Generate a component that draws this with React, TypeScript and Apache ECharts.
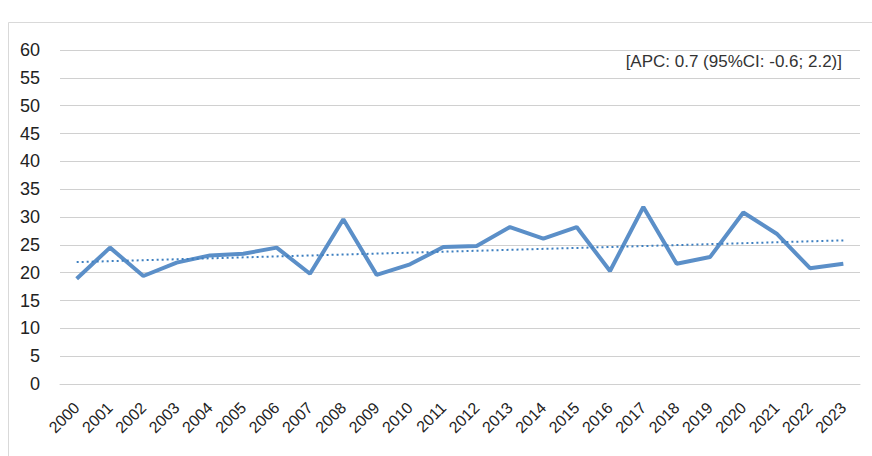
import React, { useEffect, useRef } from "react";
import * as echarts from "echarts";

const years = [
  "2000", "2001", "2002", "2003", "2004", "2005", "2006", "2007", "2008", "2009", "2010", "2011",
  "2012", "2013", "2014", "2015", "2016", "2017", "2018", "2019", "2020", "2021", "2022", "2023",
];
const rates = [
  18.9, 24.5, 19.4, 21.8, 23.1, 23.4, 24.5, 19.8, 29.6, 19.6, 21.5, 24.6,
  24.8, 28.2, 26.1, 28.2, 20.3, 31.8, 21.6, 22.8, 30.8, 27.0, 20.8, 21.6,
];
// linear trend endpoints (2000 and 2023)
const trendStart = 21.9;
const trendEnd = 25.8;
const annotation = "[APC: 0.7 (95%CI: -0.6; 2.2)]";

export default function App() {
  const ref = useRef<HTMLDivElement>(null);
  useEffect(() => {
    if (!ref.current) return;
    const chart = echarts.init(ref.current, null, { renderer: "svg" });
    const trend = years.map((_, i) => (i === 0 ? trendStart : i === years.length - 1 ? trendEnd : null));
    chart.setOption({
      animation: false,
      backgroundColor: "#ffffff",
      textStyle: { fontFamily: "Liberation Sans" },
      grid: { left: 60, right: 12, top: 50, bottom: 72, containLabel: false },
      graphic: [
        {
          type: "rect",
          shape: { x: 8.5, y: 22.5, width: 900, height: 500 },
          style: { fill: "none", stroke: "#d9d9d9", lineWidth: 1 },
          silent: true,
        },
        {
          type: "text",
          right: 30,
          top: 53,
          style: { text: annotation, font: "17px 'Liberation Sans'", fill: "#333333" },
        },
      ],
      xAxis: {
        type: "category",
        data: years,
        boundaryGap: true,
        axisLine: { show: true, lineStyle: { color: "#d0d0d0", width: 1 } },
        axisTick: { show: false },
        axisLabel: { rotate: 45, fontSize: 16, color: "#222222", margin: 21, interval: 0 },
      },
      yAxis: {
        type: "value",
        min: 0,
        max: 60,
        interval: 5,
        axisLine: { show: false },
        axisTick: { show: false },
        axisLabel: { fontSize: 18, color: "#222222", margin: 20 },
        splitLine: { lineStyle: { color: "#d0d0d0", width: 1 } },
      },
      series: [
        {
          type: "line",
          data: rates,
          symbol: "none",
          lineStyle: { color: "#5b8fc8", width: 4 },
          z: 2,
        },
        {
          type: "line",
          data: trend,
          connectNulls: true,
          symbol: "none",
          lineStyle: { color: "#3d7fc0", width: 2, type: [2, 3] },
          z: 3,
        },
      ],
    });
    return () => chart.dispose();
  }, []);
  return (
    <div
      ref={ref}
      style={{ position: "fixed", left: 0, top: 0, width: 872, height: 456 }}
    />
  );
}
